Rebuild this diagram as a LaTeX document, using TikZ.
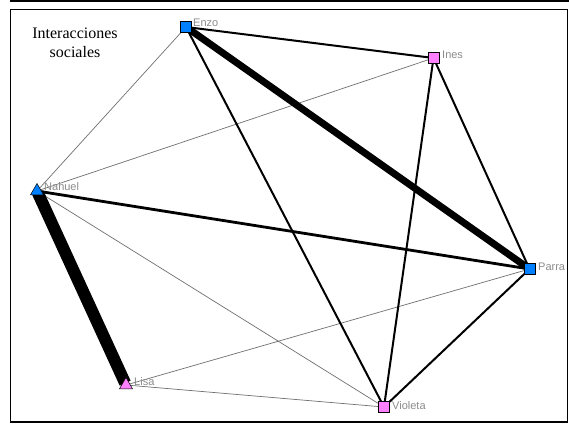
\documentclass[tikz,border=0pt]{standalone}
\usepackage{fontspec}
\setmainfont{Liberation Serif}
\newfontfamily\labelfont{Liberation Sans}
\usetikzlibrary{shapes.geometric}
\definecolor{nblue}{HTML}{0080FF}
\definecolor{npink}{HTML}{FF80FF}
\definecolor{lblgray}{HTML}{8C8C8C}
\definecolor{thingray}{HTML}{707070}
\begin{document}
\begin{tikzpicture}[x=1pt,y=-1pt,
  sq/.style={draw=black,line width=0.5pt,minimum size=11pt,inner sep=0pt,rectangle},
  tri/.style={draw=black,line width=0.5pt,regular polygon,regular polygon sides=3,minimum size=15pt,inner sep=0pt},
  lbl/.style={anchor=west,text=lblgray,font=\labelfont\fontsize{11}{13}\selectfont,inner sep=0pt},
  thin/.style={draw=thingray,line width=0.7pt},
  med/.style={draw=black,line width=2pt},
  thick3/.style={draw=black,line width=2.8pt},
  heavy/.style={draw=black,line width=7pt},
  vheavy/.style={draw=black,line width=12pt}]
\useasboundingbox (0,0) rectangle (569,424);
\fill[white] (0,0) rectangle (569,424);
% frame
\draw[line width=1.5pt] (10,0.75) -- (569,0.75);
\draw[line width=1.5pt] (10.5,9.5) rectangle (567.5,422);
% title
\node[font=\fontsize{16}{19}\selectfont,align=center] (title) at (75,43) {Interacciones\\sociales};
% node positions
\coordinate (pEnzo) at (186,27);
\coordinate (pInes) at (433.5,58);
\coordinate (pNahuel) at (37,191);
\coordinate (pParra) at (529.5,269);
\coordinate (pLisa) at (126,385);
\coordinate (pVioleta) at (384,407);
% edges
\draw[thin] (pEnzo) -- (pNahuel);
\draw[thin] (pInes) -- (pNahuel);
\draw[thin] (pNahuel) -- (pVioleta);
\draw[thin] (pLisa) -- (pParra);
\draw[thin] (pLisa) -- (pVioleta);
\draw[med] (pEnzo) -- (pInes);
\draw[med] (pEnzo) -- (pVioleta);
\draw[med] (pInes) -- (pParra);
\draw[med] (pInes) -- (pVioleta);
\draw[med] (pParra) -- (pVioleta);
\draw[thick3] (pNahuel) -- (pParra);
\draw[heavy] (pEnzo) -- (pParra);
\draw[vheavy,shorten <=2pt,shorten >=2pt] (pNahuel) -- (pLisa);
% nodes
\node[sq,fill=nblue] (Enzo) at (pEnzo) {};
\node[sq,fill=npink] (Ines) at (pInes) {};
\node[tri,fill=nblue] (Nahuel) at (pNahuel) {};
\node[sq,fill=nblue] (Parra) at (pParra) {};
\node[tri,fill=npink] (Lisa) at (pLisa) {};
\node[sq,fill=npink] (Violeta) at (pVioleta) {};
% labels
\node[lbl] (lEnzo) at (193,23) {Enzo};
\node[lbl] (lInes) at (442,55) {Ines};
\node[lbl] (lNahuel) at (44,187) {Nahuel};
\node[lbl] (lParra) at (538,267) {Parra};
\node[lbl] (lLisa) at (134,382) {Lisa};
\node[lbl] (lVioleta) at (392,406) {Violeta};
\end{tikzpicture}
\end{document}
